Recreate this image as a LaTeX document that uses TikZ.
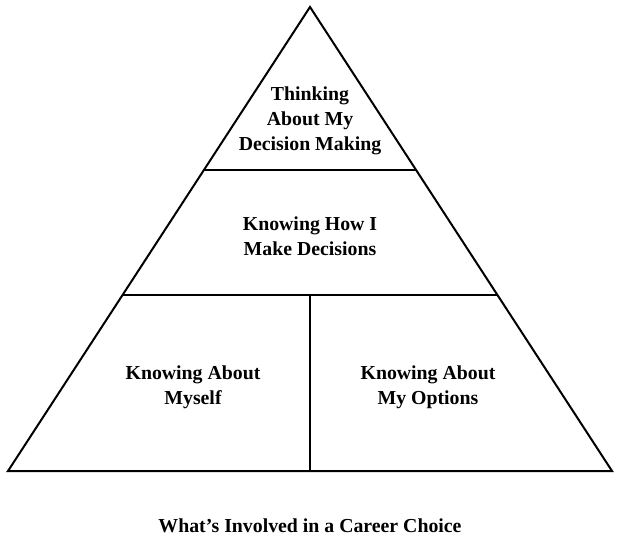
\documentclass[tikz,border=0pt]{standalone}
\usepackage{fontspec}
\setmainfont{Liberation Serif}
\usetikzlibrary{calc}
\begin{document}
\begin{tikzpicture}[x=1pt,y=-1pt,line width=2pt,line join=miter,
  font=\bfseries\fontsize{19.8}{25}\selectfont]
\useasboundingbox (0,0) rectangle (628,546);
% pyramid outline
\coordinate (apex) at (310,7);
\coordinate (baseL) at (8,471);
\coordinate (baseR) at (612,471);
\draw (apex) -- (baseL) -- (baseR) -- cycle;
% levels
\coordinate (topL) at ($(apex)!0.352!(baseL)$);
\coordinate (topR) at ($(apex)!0.352!(baseR)$);
\coordinate (midL) at ($(apex)!0.621!(baseL)$);
\coordinate (midR) at ($(apex)!0.621!(baseR)$);
\draw (topL) -- (topR);
\draw (midL) -- (midR);
\coordinate (midC) at (310,295);
\coordinate (baseC) at (310,471);
\draw (midC) -- (baseC);
\node[align=center] (think) at (310,121) {Thinking\\About My\\Decision Making};
\node[align=center] (how) at (310,236) {Knowing How I\\Make Decisions};
\node[align=center] (self) at (193,387) {Knowing About\\Myself};
\node[align=center] (opts) at (428,387) {Knowing About\\My Options};
\node (caption) at (310,526) {What’s Involved in a Career Choice};
\end{tikzpicture}
\end{document}
